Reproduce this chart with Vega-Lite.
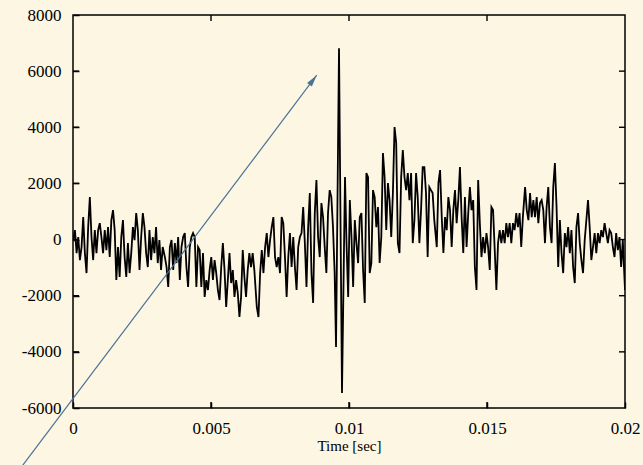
{
  "$schema": "https://vega.github.io/schema/vega-lite/v6.json",
  "autosize": "none",
  "width": 552,
  "height": 393,
  "padding": {"left": 73, "top": 15, "right": 18, "bottom": 57},
  "background": "#fdf6e3",
  "config": {
    "view": {"stroke": "#000000", "strokeWidth": 1.5},
    "font": "Liberation Serif",
    "axis": {
      "domain": false, "grid": false,
      "labelFont": "Liberation Serif", "labelFontSize": 17, "labelColor": "#000000",
      "labelFlush": false, "titleFont": "Liberation Serif", "titleFontWeight": "normal", "titleFontSize": 15, "titleColor": "#000000"
    }
  },
  "datasets": {
    "sig": [
      {"t":0.00001,"v":-18},{"t":0.00007,"v":338},{"t":0.00013,"v":-481},{"t":0.00019,"v":89},{"t":0.00025,"v":-730},{"t":0.00031,"v":-267},{"t":0.00037,"v":801},{"t":0.00043,"v":-481},{"t":0.00049,"v":-1193},{"t":0.00055,"v":445},{"t":0.00061,"v":1513},{"t":0.00067,"v":89},{"t":0.00073,"v":-730},{"t":0.00079,"v":338},{"t":0.00085,"v":-481},{"t":0.00091,"v":338},{"t":0.00097,"v":587},{"t":0.00103,"v":89},{"t":0.00109,"v":-481},{"t":0.00115,"v":338},{"t":0.00121,"v":-374},{"t":0.00127,"v":445},{"t":0.00133,"v":-623},{"t":0.00139,"v":694},{"t":0.00145,"v":1050},{"t":0.00151,"v":338},{"t":0.00157,"v":-1442},{"t":0.00163,"v":-267},{"t":0.00169,"v":-1335},{"t":0.00175,"v":89},{"t":0.00181,"v":694},{"t":0.00187,"v":-623},{"t":0.00193,"v":-1335},{"t":0.00199,"v":-125},{"t":0.00205,"v":-1193},{"t":0.00211,"v":-481},{"t":0.00217,"v":445},{"t":0.00223,"v":-18},{"t":0.00229,"v":943},{"t":0.00235,"v":338},{"t":0.00241,"v":-1086},{"t":0.00247,"v":89},{"t":0.00253,"v":943},{"t":0.00259,"v":445},{"t":0.00265,"v":-481},{"t":0.00271,"v":-979},{"t":0.00277,"v":338},{"t":0.00283,"v":-730},{"t":0.00289,"v":89},{"t":0.00295,"v":-481},{"t":0.00301,"v":445},{"t":0.00307,"v":-837},{"t":0.00313,"v":-18},{"t":0.00319,"v":-1086},{"t":0.00325,"v":-267},
      {"t":0.00333,"v":-623},{"t":0.00339,"v":-979},{"t":0.00345,"v":-1691},{"t":0.00351,"v":-267},{"t":0.00357,"v":-18},{"t":0.00363,"v":-1086},{"t":0.00369,"v":-125},{"t":0.00375,"v":-837},{"t":0.00381,"v":89},{"t":0.00387,"v":-1442},{"t":0.00393,"v":-267},{"t":0.00399,"v":89},{"t":0.00405,"v":231},{"t":0.00411,"v":-979},{"t":0.00417,"v":-1691},{"t":0.00423,"v":-267},{"t":0.00429,"v":89},{"t":0.00435,"v":231},{"t":0.00441,"v":89},{"t":0.00447,"v":-1691},{"t":0.00453,"v":-267},{"t":0.00459,"v":-374},{"t":0.00465,"v":-1691},{"t":0.00471,"v":-481},{"t":0.00477,"v":-2047},{"t":0.00483,"v":-1442},{"t":0.00489,"v":-1798},{"t":0.00495,"v":-1086},{"t":0.00501,"v":-623},{"t":0.00507,"v":-1442},{"t":0.00513,"v":-730},{"t":0.00519,"v":-1193},{"t":0.00525,"v":-1798},{"t":0.00531,"v":-2154},{"t":0.00537,"v":-979},{"t":0.00543,"v":-125},{"t":0.00549,"v":-1086},{"t":0.00555,"v":-2403},{"t":0.00561,"v":-1442},{"t":0.00567,"v":-481},{"t":0.00573,"v":-1549},{"t":0.00579,"v":-1086},{"t":0.00585,"v":-2047},{"t":0.00591,"v":-1442},{"t":0.00597,"v":-1905},{"t":0.00603,"v":-2759},{"t":0.00609,"v":-2047},{"t":0.00615,"v":-374},{"t":0.00621,"v":-1335},{"t":0.00627,"v":-2047},{"t":0.00633,"v":-1086},{"t":0.00639,"v":-481},{"t":0.00645,"v":-979},{"t":0.00651,"v":-481},{"t":0.00657,"v":-1086},
      {"t":0.00666,"v":-2403},{"t":0.00672,"v":-2759},{"t":0.00678,"v":-1193},{"t":0.00684,"v":-374},{"t":0.0069,"v":-1193},{"t":0.00696,"v":-267},{"t":0.00702,"v":231},{"t":0.00708,"v":-623},{"t":0.00714,"v":-18},{"t":0.0072,"v":445},{"t":0.00726,"v":801},{"t":0.00732,"v":-623},{"t":0.00738,"v":-979},{"t":0.00744,"v":-623},{"t":0.0075,"v":-1193},{"t":0.00756,"v":801},{"t":0.00762,"v":587},{"t":0.00768,"v":-623},{"t":0.00774,"v":-2047},{"t":0.0078,"v":-623},{"t":0.00786,"v":231},{"t":0.00792,"v":-979},{"t":0.00798,"v":89},{"t":0.00804,"v":-979},{"t":0.0081,"v":-1798},{"t":0.00816,"v":-267},{"t":0.00822,"v":89},{"t":0.00828,"v":231},{"t":0.00834,"v":1157},{"t":0.0084,"v":-125},{"t":0.00846,"v":-1691},{"t":0.00852,"v":445},{"t":0.00858,"v":1655},{"t":0.00864,"v":-1193},{"t":0.0087,"v":-2261},{"t":0.00876,"v":943},{"t":0.00882,"v":2118},{"t":0.00888,"v":89},{"t":0.00894,"v":-623},{"t":0.009,"v":1299},{"t":0.00906,"v":801},{"t":0.00912,"v":-267},{"t":0.00918,"v":-1193},{"t":0.00924,"v":943},{"t":0.0093,"v":1762},{"t":0.00936,"v":1513},{"t":0.00942,"v":445},{"t":0.00948,"v":-1193},
      {"t":0.00953,"v":-3827},{"t":0.009638,"v":6817},{"t":0.009746,"v":-5465},{"t":0.009855,"v":2225},
      {"t":0.00991,"v":-125},{"t":0.00997,"v":-2047},{"t":0.01003,"v":1406},{"t":0.01009,"v":89},{"t":0.01015,"v":-1691},{"t":0.01021,"v":694},{"t":0.01027,"v":-125},{"t":0.01033,"v":-837},{"t":0.01039,"v":801},{"t":0.01045,"v":943},{"t":0.01051,"v":-1086},{"t":0.01057,"v":-2261},{"t":0.01063,"v":2367},{"t":0.01069,"v":2225},{"t":0.01075,"v":-1193},{"t":0.01081,"v":-837},{"t":0.01087,"v":1762},{"t":0.01093,"v":1513},{"t":0.01099,"v":445},{"t":0.01105,"v":1157},{"t":0.01111,"v":-837},{"t":0.01117,"v":89},{"t":0.01123,"v":3079},{"t":0.01129,"v":2225},{"t":0.01135,"v":338},{"t":0.01141,"v":2011},{"t":0.01147,"v":1406},{"t":0.01153,"v":89},{"t":0.01159,"v":1655},{"t":0.01165,"v":4005},{"t":0.01171,"v":3435},{"t":0.01177,"v":-125},{"t":0.01183,"v":-481},{"t":0.01189,"v":2225},{"t":0.01195,"v":3186},{"t":0.01201,"v":2225},{"t":0.01207,"v":1762},{"t":0.01213,"v":2367},{"t":0.01219,"v":1406},{"t":0.01225,"v":2367},{"t":0.01231,"v":-125},{"t":0.01237,"v":694},{"t":0.01243,"v":2367},{"t":0.01249,"v":1513},{"t":0.01255,"v":-125},{"t":0.01261,"v":1050},{"t":0.01267,"v":2581},{"t":0.01273,"v":2581},{"t":0.01279,"v":1655},{"t":0.01285,"v":-623},{"t":0.01291,"v":1869},{"t":0.01297,"v":1762},{"t":0.01303,"v":1655},{"t":0.01309,"v":694},
      {"t":0.01318,"v":-267},{"t":0.01324,"v":2011},{"t":0.0133,"v":2474},{"t":0.01336,"v":801},{"t":0.01342,"v":-481},{"t":0.01348,"v":801},{"t":0.01354,"v":338},{"t":0.0136,"v":1513},{"t":0.01366,"v":1050},{"t":0.01372,"v":-267},{"t":0.01378,"v":1050},{"t":0.01384,"v":1762},{"t":0.0139,"v":587},{"t":0.01396,"v":1406},{"t":0.01402,"v":2581},{"t":0.01408,"v":801},{"t":0.01414,"v":-481},{"t":0.0142,"v":1513},{"t":0.01426,"v":-267},{"t":0.01432,"v":943},{"t":0.01438,"v":1869},{"t":0.01444,"v":1050},{"t":0.0145,"v":1406},{"t":0.01456,"v":-979},{"t":0.01462,"v":-1798},{"t":0.01468,"v":2118},{"t":0.01474,"v":587},{"t":0.0148,"v":-623},{"t":0.01486,"v":89},{"t":0.01492,"v":-481},{"t":0.01498,"v":231},{"t":0.01504,"v":-267},{"t":0.0151,"v":-1086},{"t":0.01516,"v":1157},{"t":0.01522,"v":1050},{"t":0.01528,"v":-374},{"t":0.01534,"v":-1798},{"t":0.0154,"v":-125},{"t":0.01546,"v":338},{"t":0.01552,"v":-125},{"t":0.01558,"v":338},{"t":0.01564,"v":-125},{"t":0.0157,"v":587},{"t":0.01576,"v":89},{"t":0.01582,"v":587},{"t":0.01588,"v":-125},{"t":0.01594,"v":587},{"t":0.016,"v":338},{"t":0.01606,"v":943},{"t":0.01612,"v":445},{"t":0.01618,"v":943},{"t":0.01624,"v":-267},{"t":0.0163,"v":801},
      {"t":0.01638,"v":1869},{"t":0.01644,"v":1050},{"t":0.0165,"v":694},{"t":0.01656,"v":1655},{"t":0.01662,"v":801},{"t":0.01668,"v":1406},{"t":0.01674,"v":801},{"t":0.0168,"v":1513},{"t":0.01686,"v":587},{"t":0.01692,"v":1299},{"t":0.01698,"v":1406},{"t":0.01704,"v":1050},{"t":0.0171,"v":-125},{"t":0.01716,"v":1157},{"t":0.01722,"v":1869},{"t":0.01728,"v":445},{"t":0.01734,"v":-125},{"t":0.0174,"v":1869},{"t":0.01746,"v":2723},{"t":0.01752,"v":1157},{"t":0.01758,"v":-979},{"t":0.01764,"v":694},{"t":0.0177,"v":-481},{"t":0.01776,"v":-1193},{"t":0.01782,"v":231},{"t":0.01788,"v":-267},{"t":0.01794,"v":445},{"t":0.018,"v":-481},{"t":0.01806,"v":338},{"t":0.01812,"v":-979},{"t":0.01818,"v":-1549},{"t":0.01824,"v":445},{"t":0.0183,"v":943},{"t":0.01836,"v":-125},{"t":0.01842,"v":-730},{"t":0.01848,"v":-1193},{"t":0.01854,"v":-18},{"t":0.0186,"v":694},{"t":0.01866,"v":1406},{"t":0.01872,"v":445},{"t":0.01878,"v":-730},{"t":0.01884,"v":-267},{"t":0.0189,"v":231},{"t":0.01896,"v":-481},{"t":0.01902,"v":231},{"t":0.01908,"v":-125},{"t":0.01914,"v":338},{"t":0.0192,"v":89},{"t":0.01926,"v":587},{"t":0.01932,"v":231},{"t":0.01938,"v":-125},{"t":0.01944,"v":338},{"t":0.0195,"v":231},{"t":0.01956,"v":-267},{"t":0.01962,"v":-623},{"t":0.01968,"v":231},{"t":0.01974,"v":-374},{"t":0.0198,"v":89},{"t":0.01986,"v":-979},{"t":0.01992,"v":-18},{"t":0.02,"v":-1798}
    ],
    "arrow": [{"t1": -0.002, "v1": -8273, "t2": 0.00883, "v2": 5856}],
    "xt": [{"t": 0.005}, {"t": 0.01}, {"t": 0.015}],
    "yt": [{"v": -4000}, {"v": -2000}, {"v": 0}, {"v": 2000}, {"v": 4000}, {"v": 6000}]
  },
  "layer": [
    {
      "data": {"name": "sig"},
      "mark": {"type": "line", "color": "#000000", "strokeWidth": 1.8, "clip": true},
      "encoding": {
        "x": {"field": "t", "type": "quantitative", "scale": {"domain": [0, 0.02], "nice": false, "zero": false},
              "axis": {"title": "Time [sec]", "values": [0, 0.005, 0.01, 0.015, 0.02], "labelExpr": "toString(datum.value)", "titlePadding": 2, "offset": -6, "tickSize": 6, "tickWidth": 1.5, "tickColor": "#000000", "labelPadding": 12}},
        "y": {"field": "v", "type": "quantitative", "scale": {"domain": [-6000, 8000], "nice": false, "zero": false},
              "axis": {"title": null, "values": [-6000, -4000, -2000, 0, 2000, 4000, 6000, 8000], "labelExpr": "toString(datum.value)", "offset": -6, "tickSize": 6, "tickWidth": 1.5, "tickColor": "#000000", "labelPadding": 12}}
      }
    },
    {
      "data": {"name": "xt"},
      "mark": {"type": "tick", "orient": "vertical", "size": 12, "thickness": 1.4, "color": "#000000", "opacity": 1, "clip": true},
      "encoding": {
        "x": {"field": "t", "type": "quantitative", "axis": null},
        "y": {"datum": -6000, "type": "quantitative", "axis": null}
      }
    },
    {
      "data": {"name": "xt"},
      "mark": {"type": "tick", "orient": "vertical", "size": 12, "thickness": 1.4, "color": "#000000", "opacity": 1, "clip": true},
      "encoding": {
        "x": {"field": "t", "type": "quantitative", "axis": null},
        "y": {"datum": 8000, "type": "quantitative", "axis": null}
      }
    },
    {
      "data": {"name": "yt"},
      "mark": {"type": "tick", "orient": "horizontal", "size": 12, "thickness": 1.4, "color": "#000000", "opacity": 1, "clip": true},
      "encoding": {
        "y": {"field": "v", "type": "quantitative", "axis": null},
        "x": {"datum": 0, "type": "quantitative", "axis": null}
      }
    },
    {
      "data": {"name": "yt"},
      "mark": {"type": "tick", "orient": "horizontal", "size": 12, "thickness": 1.4, "color": "#000000", "opacity": 1, "clip": true},
      "encoding": {
        "y": {"field": "v", "type": "quantitative", "axis": null},
        "x": {"datum": 0.02, "type": "quantitative", "axis": null}
      }
    },
    {
      "data": {"name": "arrow"},
      "mark": {"type": "rule", "color": "#4a7396", "strokeWidth": 1.2, "clip": false},
      "encoding": {
        "x": {"field": "t1", "type": "quantitative", "axis": null},
        "y": {"field": "v1", "type": "quantitative", "axis": null},
        "x2": {"field": "t2"},
        "y2": {"field": "v2"}
      }
    },
    {
      "data": {"name": "arrow"},
      "mark": {"type": "point", "shape": "M0,0L0.5,2L-0.5,2Z", "angle": 37, "size": 144, "filled": true, "color": "#4a7396", "opacity": 1, "clip": false},
      "encoding": {
        "x": {"field": "t2", "type": "quantitative", "axis": null},
        "y": {"field": "v2", "type": "quantitative", "axis": null}
      }
    }
  ],
  "resolve": {"axis": {"x": "independent", "y": "independent"}}
}
